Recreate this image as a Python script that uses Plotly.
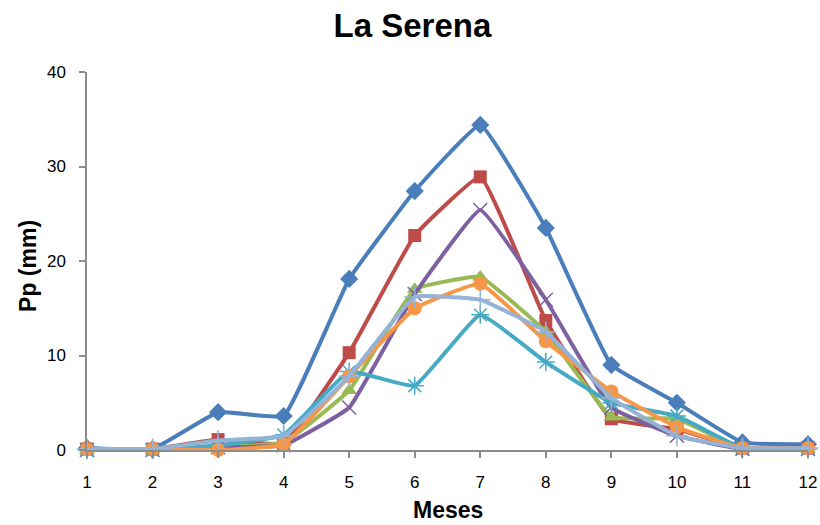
import plotly.graph_objects as go

months = list(range(1, 13))
month_labels = [str(m) for m in months]
y_ticks = [0, 10, 20, 30, 40]

s1 = [0.2, 0.1, 4.0, 3.6, 18.1, 27.4, 34.4, 23.5, 9.0, 5.0, 0.8, 0.6]
s2 = [0.1, 0.1, 1.1, 0.7, 10.3, 22.7, 28.9, 13.7, 3.3, 2.2, 0.2, 0.2]
s3 = [0.0, 0.0, 0.3, 0.8, 6.3, 17.0, 18.3, 12.5, 3.5, 3.3, 0.1, 0.1]
s4 = [0.0, 0.0, 0.3, 0.5, 4.5, 16.5, 25.4, 15.9, 4.5, 1.5, 0.1, 0.1]
s5 = [0.0, 0.0, 0.5, 1.6, 8.3, 6.8, 14.3, 9.3, 5.0, 3.6, 0.2, 0.1]
s6 = [0.1, 0.1, 0.0, 0.6, 7.8, 15.0, 17.6, 11.5, 6.2, 2.4, 0.2, 0.2]
s7 = [0.1, 0.1, 1.0, 1.5, 7.8, 16.2, 15.9, 12.5, 5.5, 1.5, 0.2, 0.2]

series = [
    (s1, "#4A7EBB", "diamond", 14, False),
    (s2, "#BE4B48", "square", 13, False),
    (s3, "#98B954", "triangle-up", 14, False),
    (s4, "#7D60A0", "x-thin-open", 14, True),
    (s5, "#46AAC5", "asterisk-open", 15, True),
    (s6, "#F79646", "circle", 14, False),
    (s7, "#95B3D7", "cross-thin-open", 15, True),
]

FONT = "Liberation Sans, Arial"

fig = go.Figure()
for vals, col, sym, sz, is_open in series:
    marker = dict(symbol=sym, size=sz, color=col)
    if is_open:
        marker["line"] = dict(color=col, width=1.5)
    fig.add_trace(go.Scatter(
        x=months, y=vals, mode="lines+markers",
        line=dict(color=col, width=4, shape="spline", smoothing=0.3),
        marker=marker, cliponaxis=False, showlegend=False,
    ))

fig.update_layout(
    width=820, height=525,
    margin=dict(l=87, r=12, t=72, b=75, autoexpand=False),
    paper_bgcolor="white", plot_bgcolor="white",
    title=dict(text="<b>La Serena</b>", x=0.503, xanchor="center", y=0.952, yanchor="middle",
               font=dict(family=FONT, size=33, color="black")),
    font=dict(family=FONT, color="black"),
    annotations=[
        dict(text="<b>Meses</b>", xref="paper", yref="paper", x=0.5007, y=-0.159,
             xanchor="center", yanchor="middle", showarrow=False,
             font=dict(size=23, family=FONT, color="black")),
        dict(text="<b>Pp (mm)</b>", xref="paper", yref="paper", x=-0.0818, y=0.487,
             xanchor="center", yanchor="middle", showarrow=False, textangle=-90,
             font=dict(size=23, family=FONT, color="black")),
    ],
)
fig.update_xaxes(
    range=[1, 12], tickvals=months, ticktext=month_labels,
    showline=True, linecolor="#8C8C8C", linewidth=1.5,
    ticks="outside", ticklen=6, tickcolor="#8C8C8C", tickwidth=1.5,
    ticklabelstandoff=10, automargin=False,
    showgrid=False, zeroline=False,
    tickfont=dict(size=17, family=FONT, color="black"),
)
fig.update_yaxes(
    range=[0, 40], tickvals=y_ticks,
    showline=True, linecolor="#8C8C8C", linewidth=1.5,
    ticks="outside", ticklen=6, tickcolor="#8C8C8C", tickwidth=1.5,
    ticklabelstandoff=10, automargin=False,
    showgrid=False, zeroline=False,
    tickfont=dict(size=17, family=FONT, color="black"),
)

fig.write_html("out.html")
